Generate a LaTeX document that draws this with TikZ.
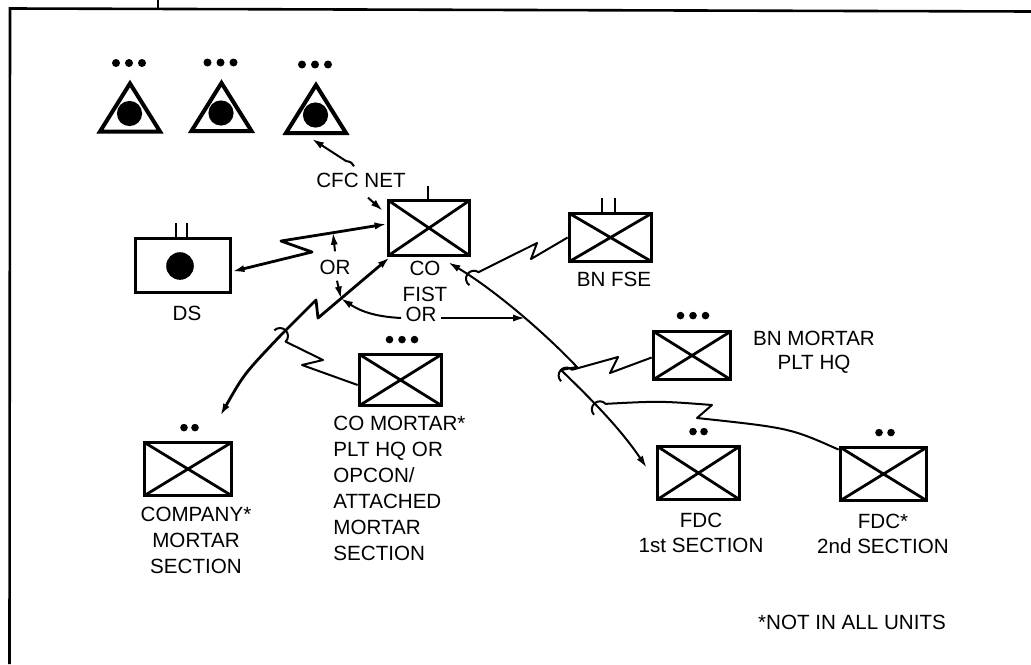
\documentclass[tikz,border=0pt]{standalone}
\usepackage{fontspec}
\setmainfont{Liberation Sans}
\usetikzlibrary{arrows.meta,calc}
\begin{document}
\begin{tikzpicture}[x=0.5pt,y=-0.5pt,
  unitbox/.style={draw,line width=1.9pt,line join=miter,inner sep=0pt,
    path picture={\draw[line width=1.4pt] (path picture bounding box.south west) -- (path picture bounding box.north east) (path picture bounding box.north west) -- (path picture bounding box.south east);}},
  plainbox/.style={draw,line width=1.9pt,line join=miter,inner sep=0pt},
  lbl/.style={inner sep=1pt,font=\fontsize{10.3}{13}\selectfont,align=center},
  linkline/.style={line width=1pt,line join=round},
  heavyline/.style={line width=1.4pt,line join=round},
  onetip/.style={-{Latex[length=6pt,width=3.6pt]}},
  twotips/.style={{Latex[length=6pt,width=3.6pt]}-{Latex[length=6pt,width=3.6pt]}},
  antenna/.style={line width=1.3pt},
  trishape/.style={line width=2pt,line join=miter},
  dotfill/.style={fill=black},
]
\useasboundingbox (0,0) rectangle (1031,664);

% frame
\draw[line width=1.3pt] (9.5,664) -- (10,8.5) -- (1031,11.5);
\draw[line width=1pt] (158,0) -- (158,9);

% triangles
\coordinate (tri1) at (130,131.5);
\coordinate (tri2) at (221.5,131);
\coordinate (tri3) at (316,133);
\foreach \t in {tri1,tri2,tri3}{
  \draw[trishape,shift={(\t)}] (-30,0) -- (0,-48) -- (30,0) -- cycle;
  \fill[shift={(\t)}] (-0.5,-18) circle[radius=6.3pt];
  \foreach \dx in {-13,0,13} \fill[dotfill,shift={(\t)}] (\dx-1,-68.5) circle[radius=2pt];
}

% boxes
\node[unitbox,minimum width=40.5pt,minimum height=27.5pt] (co) at (429,228) {};
\node[plainbox,minimum width=47.5pt,minimum height=27pt] (ds) at (183,265.5) {};
\node[unitbox,minimum width=41pt,minimum height=24pt] (fse) at (610.5,237.5) {};
\node[unitbox,minimum width=38.5pt,minimum height=24pt] (bnm) at (692,355.5) {};
\node[unitbox,minimum width=43.5pt,minimum height=26.5pt] (cm) at (188,469) {};
\node[unitbox,minimum width=41pt,minimum height=25.5pt] (comort) at (400.5,380) {};
\node[unitbox,minimum width=41pt,minimum height=26.5pt] (fdc1) at (698.5,473) {};
\node[unitbox,minimum width=43pt,minimum height=26.5pt] (fdc2) at (883.5,474) {};

% DS dot
\fill ($(ds.center)+(-3,0.5)$) circle[radius=6.9pt];

% antennas
\draw[antenna] ([xshift=-0.5pt]co.north) -- ++(0,-13);
\draw[antenna] ([xshift=-3.5pt]ds.north) -- ++(0,-14);
\draw[antenna] ([xshift=2pt]ds.north) -- ++(0,-14);
\draw[antenna] ([xshift=-4.25pt]fse.north) -- ++(0,-14);
\draw[antenna] ([xshift=2.25pt]fse.north) -- ++(0,-14);

% echelon dots
\foreach \dx in {-12.5,0,12.5} \fill[dotfill] ($(comort.north)+(\dx+1.5,-13)$) circle[radius=1.9pt];
\foreach \dx in {-12.5,0,12.5} \fill[dotfill] ($(bnm.north)+(\dx+1,-14)$) circle[radius=1.9pt];
\foreach \dx in {-5.5,5.5} \fill[dotfill] ($(cm.north)+(\dx+1.5,-13)$) circle[radius=1.9pt];
\foreach \dx in {-5.5,5.5} \fill[dotfill] ($(fdc1.north)+(\dx,-13)$) circle[radius=1.9pt];
\foreach \dx in {-6,6} \fill[dotfill] ($(fdc2.north)+(\dx+1.5,-13)$) circle[radius=1.9pt];

% labels
\node[lbl] (lcfc) at (361,180) {CFC NET};
\node[lbl] (lds) at (187,313) {DS};
\node[lbl] (orA) at (335,267) {OR};
\node[lbl] (lco) at (425,281) {CO\\FIST};
\node[lbl] (orB) at (421,314) {OR};
\node[lbl] (lfse) at (614,279) {BN FSE};
\node[lbl,font=\fontsize{10.3}{12}\selectfont] (lbnm) at (814,352) {BN MORTAR\\PLT HQ};
\node[lbl] (lcm) at (196,540) {COMPANY*\\MORTAR\\SECTION};
\node[lbl,align=left,anchor=west] (lcomort) at (331,488.5) {CO MORTAR*\\PLT HQ OR\\OPCON/\\ATTACHED\\MORTAR\\SECTION};
\node[lbl,font=\fontsize{10.3}{12.5}\selectfont] (lfdc1) at (701,532.5) {FDC\\1st SECTION};
\node[lbl,font=\fontsize{10.3}{12.5}\selectfont] (lfdc2) at (883,533.5) {FDC*\\2nd SECTION};
\node[lbl] (lnote) at (852,622) {*NOT IN ALL UNITS};

% junction coordinates
\coordinate (dsco) at (333,232.7);
\coordinate (jn) at (341,298.5);
\coordinate (hk1) at (280,336);
\coordinate (jr) at (525,318);
\coordinate (hkF) at (474,278.7);
\coordinate (hkM) at (566.6,375.5);
\coordinate (hk2) at (599.8,409.3);
\coordinate (t3b) at (312,139);

% DS - CO
\draw[heavyline,twotips] ([yshift=-3pt]ds.east) -- (312,252) -- (281,241) -- (dsco) -- ([yshift=2pt]co.west);
% CO - company mortar section
\draw[heavyline,twotips] ([xshift=1.5pt]co.south west) -- (jn) -- (318,318) -- (316,300) -- (hk1) .. controls (244,374) .. ([xshift=-6.5pt,yshift=12.5pt]cm.north east);
% CO mortar branch
\draw[linkline] ([yshift=-2.5pt]comort.west) -- (302,365) -- (323,360) -- ($(hk1)+(-45:4pt)$) arc[start angle=-45,end angle=135,radius=4pt];
% CO - FDC 1st
\draw[linkline,twotips] ([xshift=-11.5pt,yshift=-2.5pt]co.south east) .. controls (490,287) and (540,328) .. (577,367) -- (561,370) .. controls (590,398) and (620,428) .. ([xshift=-4.5pt,yshift=-11.5pt]fdc1.north west);
% BN FSE branch
\draw[linkline] (fse.west) -- (531,259) -- (537,243) -- ($(hkF)+(55:4pt)$) arc[start angle=55,end angle=235,radius=4pt];
% BN mortar branch
\draw[linkline] ([yshift=-1pt]bnm.west) -- (610,373) -- (618,357) -- ($(hkM)+(46:4pt)$) arc[start angle=46,end angle=226,radius=4pt];
% FDC 2nd branch
\draw[linkline] ([yshift=-2pt]fdc2.north west) .. controls (790,428) .. (697,418) -- (712,405) .. controls (660,401) .. ($(hk2)+(43:4pt)$) arc[start angle=43,end angle=223,radius=4pt];
% OR arrows
\draw[linkline,onetip] ([xshift=-1pt,yshift=-2pt]orB.west) to[bend left=15] (jn);
\draw[linkline,onetip] ([xshift=1pt,yshift=-2pt]orB.east) -- (jr);
\draw[linkline,onetip] ([yshift=3pt]orA.north) -- (dsco);
\draw[linkline,onetip] ([xshift=1pt,yshift=-2pt]orA.south) -- (jn);
% CFC NET arrows
\draw[linkline,onetip] ([xshift=-3.5pt,yshift=2pt]lcfc.north) .. controls (351,162) .. (346,161) -- (t3b);
\draw[linkline,onetip] ([xshift=3.5pt,yshift=-4pt]lcfc.south) -- ([xshift=-2pt,yshift=-6pt]co.north west);
\end{tikzpicture}
\end{document}
